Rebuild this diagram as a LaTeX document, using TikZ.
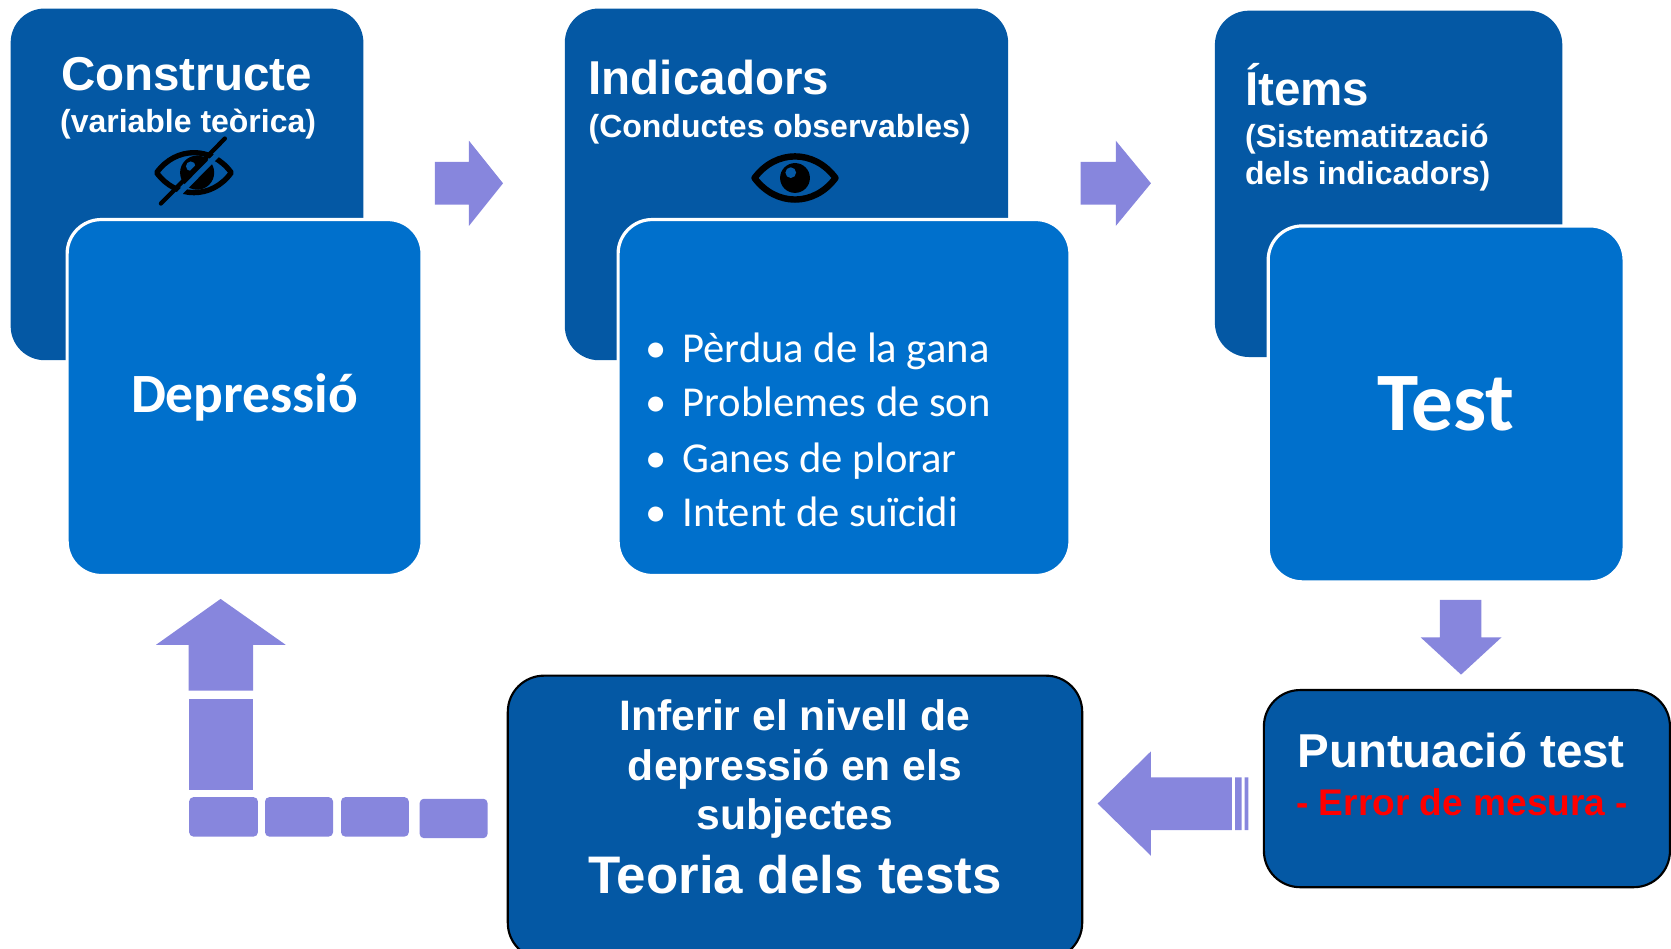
\documentclass[tikz,border=0pt]{standalone}
\usepackage{fontspec}
\setmainfont{Liberation Sans}
\newfontfamily\calfont{Carlito}
\definecolor{fosc}{RGB}{4,88,164}
\definecolor{mig}{RGB}{0,112,204}
\definecolor{lila}{RGB}{135,134,221}
\tikzset{
	caixa/.style={fill=fosc, rounded corners=16pt, inner sep=0pt},
	caixab/.style={fill=mig, draw=white, line width=1.5pt, rounded corners=16pt, inner sep=0pt, text=white},
	caixan/.style={fill=fosc, draw=black, line width=1pt, rounded corners=17pt, inner sep=0pt},
	titol/.style={text=white, font=\fontsize{22.3}{26}\selectfont\bfseries, inner sep=0pt},
	subtitol/.style={text=white, font=\fontsize{15}{17.5}\selectfont\bfseries, inner sep=0pt},
	punt/.style={text=white, font=\calfont\fontsize{20}{24}\selectfont, inner sep=0pt, anchor=base west},
	inf/.style={text=white, font=\fontsize{20}{24}\selectfont\bfseries, inner sep=0pt, anchor=base},
	fletxa/.style={fill=lila},
	ull/.style={draw=black, line width=3pt}
}
\begin{document}
\begin{tikzpicture}[x=0.5pt, y=-0.5pt, line join=round]
	\useasboundingbox (0,0) rectangle (1568,890);
	\clip (0,0) rectangle (1568,890);
	% Constructe
	\node[caixa, minimum width=165.5pt, minimum height=165pt] (constructe) at (175.5,173) {};
	\node[titol, anchor=base] (tconstructe) at (175,85) {Constructe};
	\node[subtitol, anchor=base] (teorica) at (176.5,124) {(variable teòrica)};
	\begin{scope}[shift={(182,162)}]
		\draw[ull, line width=2.5pt] (-35,0) .. controls (-17,-25) and (17,-25) .. (35,0) .. controls (17,25) and (-17,25) .. (-35,0) -- cycle;
		\fill (3,0) circle (16);
		\fill[fosc] (-3,-6) circle (4.5);
		\draw[fosc, line width=2.5pt] (-27,33) -- (33,-28);
		\draw[line width=2pt, line cap=round] (-31,29) -- (29,-32);
	\end{scope}
	\node[caixab, minimum width=166.5pt, minimum height=167pt, font=\calfont\fontsize{26}{30}\selectfont\bfseries] (depressio) at (229.5,373) {Depressió};
	% Indicadors
	\node[caixa, minimum width=208pt, minimum height=165pt] (indicadors) at (738,173) {};
	\node[titol, anchor=base west] (tindicadors) at (552,89) {Indicadors};
	\node[subtitol, anchor=base west] (observables) at (552,129) {(Conductes observables)};
	\begin{scope}[shift={(746,167)}]
		\draw[ull] (-38,0) .. controls (-18,-27) and (18,-27) .. (38,0) .. controls (18,27) and (-18,27) .. (-38,0) -- cycle;
		\fill (0,0) circle (14);
		\fill[fosc] (-4,-5) circle (5);
	\end{scope}
	\node[caixab, minimum width=212pt, minimum height=167pt] (conductes) at (792,373) {};
	\node[punt] (gana) at (605,340) {•\hspace{7.5pt}Pèrdua de la gana};
	\node[punt] (son) at (605,391) {•\hspace{7.5pt}Problemes de son};
	\node[punt] (plorar) at (605,443) {•\hspace{7.5pt}Ganes de plorar};
	\node[punt] (suicidi) at (605,494) {•\hspace{7.5pt}Intent de suïcidi};
	% Items
	\node[caixa, minimum width=163pt, minimum height=162.5pt] (items) at (1303,172.5) {};
	\node[titol, anchor=base west] (titems) at (1168,99) {Ítems};
	\node[subtitol, anchor=base west] (sistem) at (1168,138.5) {(Sistematització};
	\node[subtitol, anchor=base west] (dels) at (1168,173) {dels indicadors)};
	\node[caixab, minimum width=167pt, minimum height=167pt, font=\calfont\fontsize{39}{42}\selectfont\bfseries] (test) at (1357,379) {Test};
	% Fletxes
	\fill[fletxa] (408,152) -- (440,152) -- (440,132) -- (472,172) -- (440,212) -- (440,192) -- (408,192) -- cycle;
	\fill[fletxa] (1014,152) -- (1047,152) -- (1047,132) -- (1080,172) -- (1047,212) -- (1047,192) -- (1014,192) -- cycle;
	\fill[fletxa] (1351,563) -- (1390,563) -- (1390,598) -- (1409,598) -- (1371,633) -- (1333,598) -- (1351,598) -- cycle;
	% Puntuacio
	\node[caixan, minimum width=190.5pt, minimum height=92.5pt] (puntuacio) at (1376.5,740) {};
	\node[titol, anchor=base] (tpunt) at (1371,720.6) {Puntuació test};
	\node[text=red, font=\fontsize{17.4}{20}\selectfont\bfseries, inner sep=0pt, anchor=base] (error) at (1372,765) {- Error de mesura -};
	\fill[fletxa] (1030,754) -- (1080,705) -- (1080,729.5) -- (1156,729.5) -- (1156,779) -- (1080,779) -- (1080,803) -- cycle;
	\fill[fletxa] (1159,729.5) rectangle (1165,779) (1168,729.5) rectangle (1171.5,779);
	% Inferir
	\node[caixan, minimum width=269.5pt, minimum height=133pt] (inferir) at (746,767) {};
	\node[inf] (l1) at (746,685) {Inferir el nivell de};
	\node[inf] (l2) at (746,732) {depressió en els};
	\node[inf] (l3) at (746,778) {subjectes};
	\node[inf, font=\fontsize{24.8}{28}\selectfont\bfseries] (teoria) at (746,838) {Teoria dels tests};
	% Fletxa en L
	\fill[fletxa] (177,648) -- (177,605) -- (146.5,605) -- (207,562) -- (268,605) -- (237.5,605) -- (237.5,648) -- cycle;
	\fill[fletxa] (177,656) rectangle (237.5,741);
	\fill[fletxa, rounded corners=2pt] (177.5,748) rectangle (242,785) (248.7,748) rectangle (312.5,785)
	(320,748) rectangle (383.6,785) (393.8,749.5) rectangle (457.5,786.5);
\end{tikzpicture}
\end{document}
